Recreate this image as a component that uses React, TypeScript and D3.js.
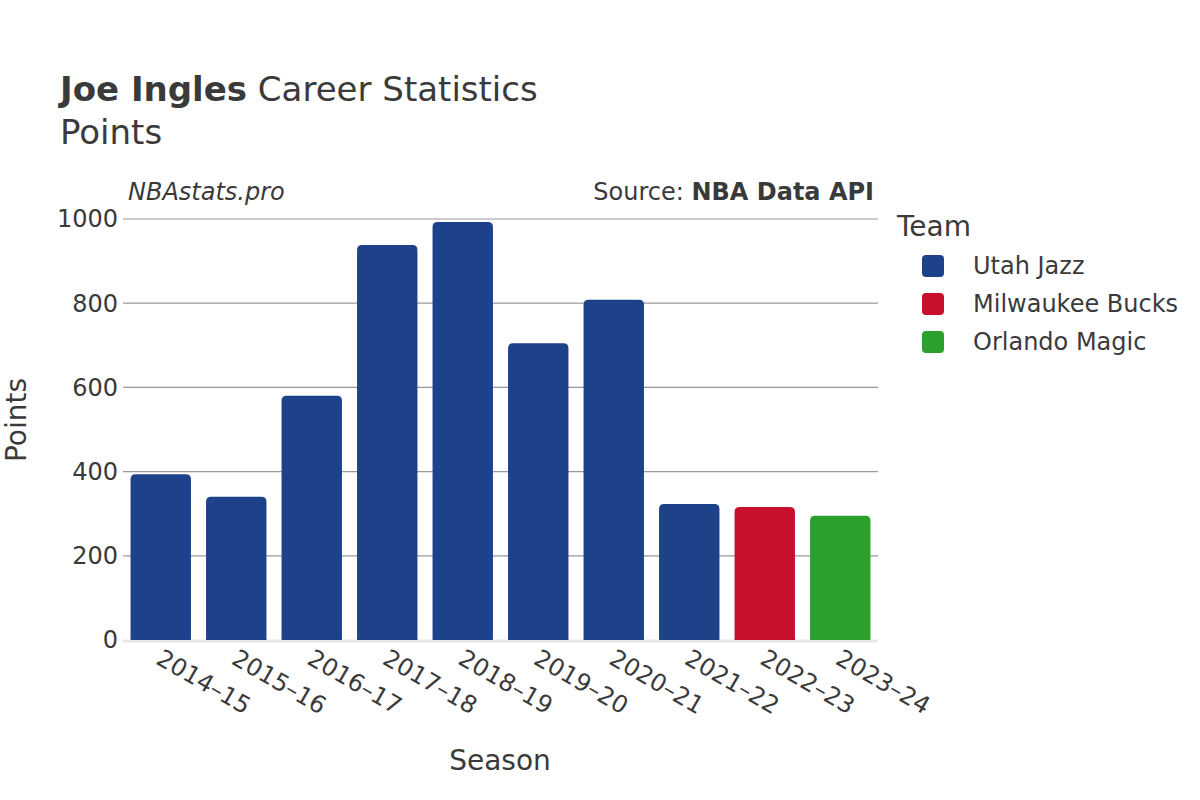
import React from "react";
import * as d3 from "d3";

const seasons = ["2014-15","2015-16","2016-17","2017-18","2018-19","2019-20","2020-21","2021-22","2022-23","2023-24"];
const points = [394, 340, 580, 938, 993, 705, 808, 323, 316, 295];
const teams = ["Utah Jazz","Utah Jazz","Utah Jazz","Utah Jazz","Utah Jazz","Utah Jazz","Utah Jazz","Utah Jazz","Milwaukee Bucks","Orlando Magic"];
const legendTeams = ["Utah Jazz","Milwaukee Bucks","Orlando Magic"];
const teamColors = ["#1d428a","#c8102e","#2ca02c"];
const yTicks = [0, 200, 400, 600, 800, 1000];

const W = 1200, H = 800;
const left = 123, right = 878, top = 219, bottom = 640;

export default function App() {
  const x = d3.scaleBand<string>().domain(seasons).range([left, right]).paddingInner(0.2).paddingOuter(0.1);
  const y = d3.scaleLinear().domain([0, 1000]).range([bottom, top]);
  const color = d3.scaleOrdinal<string, string>().domain(legendTeams).range(teamColors);
  const font = "'DejaVu Sans', sans-serif";
  const txt = "#3a3a3a";
  return (
    <svg width={W} height={H} style={{ display: "block", position: "absolute", left: 0, top: 0 }} fontFamily={font}>
      <rect width={W} height={H} fill="#fff" />
      <text x={60} y={101} fontSize={34} fill={txt}>
        <tspan fontWeight="bold">Joe Ingles</tspan> Career Statistics
      </text>
      <text x={60} y={144} fontSize={34} fill={txt}>Points</text>
      <text x={128} y={200} fontSize={24} fontStyle="italic" fill={txt}>NBAstats.pro</text>
      <text x={874} y={200} fontSize={24} textAnchor="end" fill={txt}>
        Source: <tspan fontWeight="bold">NBA Data API</tspan>
      </text>
      {yTicks.filter(t => t > 0).map(t => (
        <line key={t} x1={left} x2={right} y1={y(t)} y2={y(t)} stroke="#999" strokeWidth={1.2} />
      ))}
      {yTicks.map(t => (
        <text key={"l" + t} x={118} y={y(t)} dy="0.35em" fontSize={24} textAnchor="end" fill={txt}>{t}</text>
      ))}
      <line x1={left} x2={right} y1={bottom + 1} y2={bottom + 1} stroke="#e8e8e8" strokeWidth={3} />
      {seasons.map((s, i) => {
        const bx = x(s)!;
        const bw = x.bandwidth();
        const by = y(points[i]);
        const r = 5;
        const p = `M${bx},${bottom} L${bx},${by + r} Q${bx},${by} ${bx + r},${by} L${bx + bw - r},${by} Q${bx + bw},${by} ${bx + bw},${by + r} L${bx + bw},${bottom} Z`;
        return <path key={s} d={p} fill={color(teams[i])} />;
      })}
      {seasons.map(s => {
        const cx = x(s)! + x.bandwidth() / 2;
        return (
          <text key={"t" + s} transform={`translate(${cx - 6},${663}) rotate(30)`} fontSize={24} fill={txt}>{s.replace("-", "–")}</text>
        );
      })}
      <text x={500} y={770} fontSize={28} textAnchor="middle" fill={txt}>Season</text>
      <text transform={`translate(26,420) rotate(-90)`} fontSize={28} textAnchor="middle" fill={txt}>Points</text>
      <text x={897} y={236} fontSize={28} fill={txt}>Team</text>
      {legendTeams.map((t, i) => (
        <g key={t} transform={`translate(0,${266 + i * 38})`}>
          <rect x={922} y={-11} width={22} height={22} rx={4} fill={teamColors[i]} />
          <text x={973} y={0} dy="0.35em" fontSize={24} fill={txt}>{t}</text>
        </g>
      ))}
    </svg>
  );
}
